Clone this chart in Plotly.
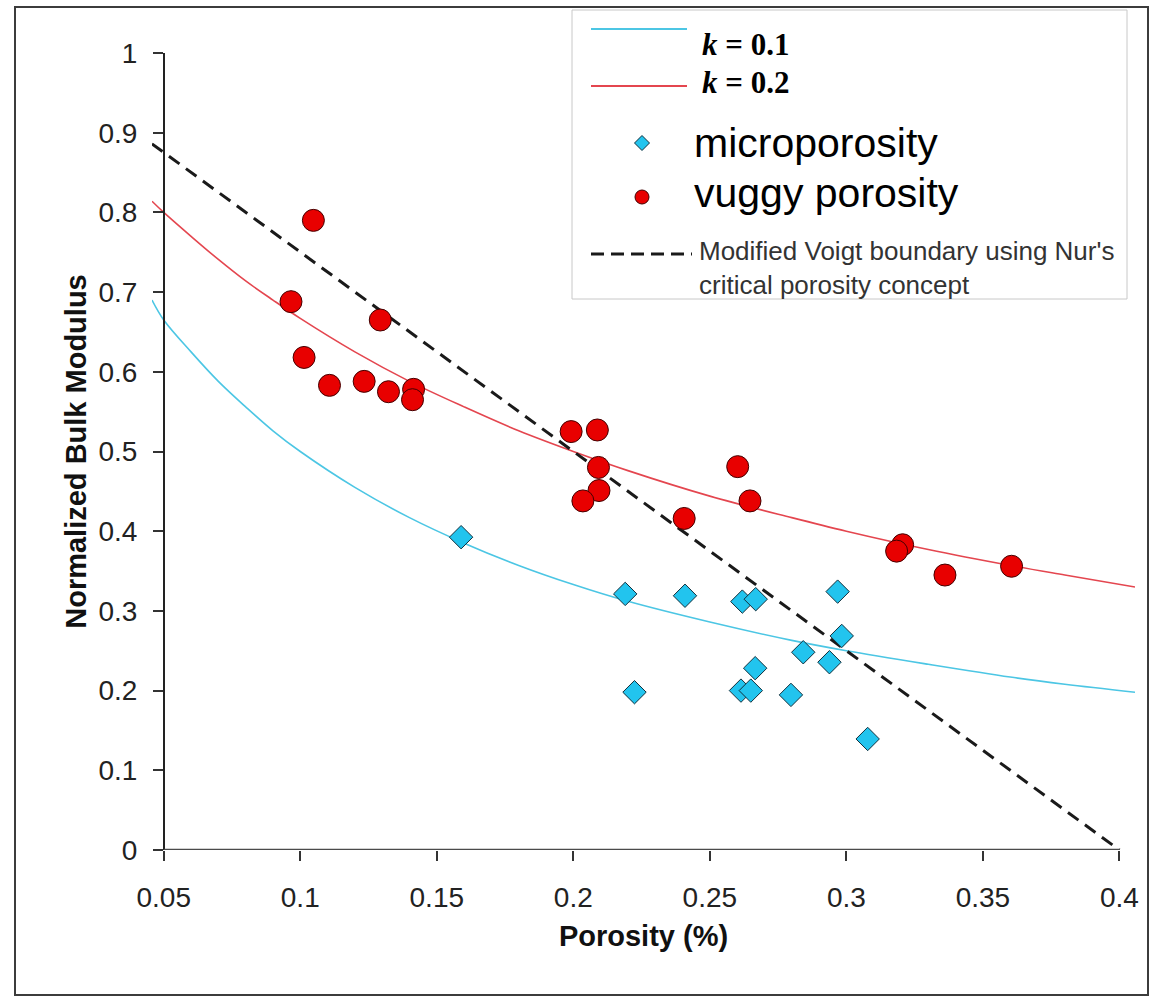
import plotly.graph_objects as go

# ---------------- data ----------------
micro_phi = [0.1589, 0.2190, 0.2409, 0.2619, 0.2668, 0.2968, 0.2983, 0.2842,
             0.2938, 0.2666, 0.2224, 0.2614, 0.2650, 0.2797, 0.3078]
micro_k = [0.3925, 0.3213, 0.3190, 0.3117, 0.3147, 0.3242, 0.2686, 0.2481,
           0.2356, 0.2281, 0.1980, 0.2000, 0.2000, 0.1946, 0.1393]

vuggy_phi = [0.1048, 0.0966, 0.1293, 0.1014, 0.1107, 0.1234, 0.1323, 0.1415,
             0.1411, 0.1992, 0.2088, 0.2092, 0.2094, 0.2035, 0.2602, 0.2647,
             0.2406, 0.3206, 0.3184, 0.3361, 0.3605]
vuggy_k = [0.790, 0.688, 0.665, 0.618, 0.583, 0.588, 0.575, 0.578,
           0.565, 0.525, 0.527, 0.480, 0.451, 0.438, 0.481, 0.438,
           0.416, 0.383, 0.375, 0.345, 0.356]

curve_phi = [0.0457, 0.05, 0.06, 0.07, 0.08, 0.09, 0.10, 0.12, 0.14, 0.16,
             0.18, 0.20, 0.22, 0.25, 0.28, 0.30, 0.33, 0.36, 0.38, 0.4057]
curve_k01 = [0.690, 0.665, 0.625, 0.588, 0.556, 0.526, 0.500, 0.455, 0.417, 0.385,
             0.357, 0.333, 0.312, 0.286, 0.263, 0.250, 0.233, 0.217, 0.208, 0.198]
curve_k02 = [0.814, 0.800, 0.770, 0.741, 0.714, 0.690, 0.667, 0.625, 0.588, 0.556,
             0.526, 0.500, 0.476, 0.444, 0.417, 0.400, 0.377, 0.357, 0.345, 0.330]

voigt_phi = [0.0457, 0.20, 0.30, 0.40]
voigt_k = [0.886, 0.500, 0.250, 0.000]

x_ticks = [0.05, 0.10, 0.15, 0.20, 0.25, 0.30, 0.35, 0.40]
x_ticklabels = ["0.05", "0.1", "0.15", "0.2", "0.25", "0.3", "0.35", "0.4"]
y_ticks = [0, 0.1, 0.2, 0.3, 0.4, 0.5, 0.6, 0.7, 0.8, 0.9, 1.0]
y_ticklabels = ["0", "0.1", "0.2", "0.3", "0.4", "0.5", "0.6", "0.7", "0.8", "0.9", "1"]

legend_labels = ["<b><i>k</i> = 0.1</b>", "<b><i>k</i> = 0.2</b>", "microporosity",
                 "vuggy porosity",
                 "Modified Voigt boundary using Nur's<br>critical porosity concept"]

# ---------------- styling / layout ----------------
W, H = 1150, 996
L, R, T, B = 152, 15, 53, 146
PW, PH = W - L - R, H - T - B
X_RANGE = [0.0457, 0.4057]

C_CYAN_LINE = "#4cc6e4"
C_RED_LINE = "#e4464f"
C_DIAMOND = "#22c4ee"
C_DIAMOND_EDGE = "#12303c"
C_CIRCLE = "#e80000"
C_CIRCLE_EDGE = "#420000"
SANS = "Liberation Sans, Arial, sans-serif"
SERIF = "Liberation Serif, Times New Roman, serif"


def px(x):
    return (x - L) / PW


def py(y):
    return (H - B - y) / PH


fig = go.Figure()

fig.add_trace(go.Scatter(x=curve_phi, y=curve_k01, mode="lines", name="k = 0.1",
                         line=dict(color=C_CYAN_LINE, width=1.6, shape="spline"),
                         showlegend=False))
fig.add_trace(go.Scatter(x=curve_phi, y=curve_k02, mode="lines", name="k = 0.2",
                         line=dict(color=C_RED_LINE, width=1.6, shape="spline"),
                         showlegend=False))
fig.add_trace(go.Scatter(x=voigt_phi, y=voigt_k, mode="lines",
                         name="Modified Voigt boundary",
                         line=dict(color="#1a1a1a", width=3, dash="13px,8px"),
                         showlegend=False))
fig.add_trace(go.Scatter(x=micro_phi, y=micro_k, mode="markers", name="microporosity",
                         marker=dict(symbol="diamond", size=18, color=C_DIAMOND,
                                     line=dict(color=C_DIAMOND_EDGE, width=1)),
                         showlegend=False))
fig.add_trace(go.Scatter(x=vuggy_phi, y=vuggy_k, mode="markers", name="vuggy porosity",
                         marker=dict(symbol="circle", size=22, color=C_CIRCLE,
                                     line=dict(color=C_CIRCLE_EDGE, width=1)),
                         showlegend=False))

shapes = []
# outer frame
shapes.append(dict(type="rect", xref="paper", yref="paper",
                   x0=px(15), x1=px(1148), y0=py(995), y1=py(7),
                   line=dict(color="#3c3c3c", width=2), layer="below"))
# x axis line (from 0.05 to 0.4)
shapes.append(dict(type="line", xref="x", yref="y", x0=x_ticks[0], x1=x_ticks[-1],
                   y0=0, y1=0, line=dict(color="#4a4a4a", width=2.5), layer="above"))
# legend box
shapes.append(dict(type="rect", xref="paper", yref="paper",
                   x0=px(572), x1=px(1127), y0=py(299), y1=py(10),
                   line=dict(color="#c8c8c8", width=1), fillcolor="white", layer="above"))
# legend samples
shapes.append(dict(type="line", xref="paper", yref="paper", x0=px(591), x1=px(687),
                   y0=py(29), y1=py(29), line=dict(color=C_CYAN_LINE, width=2), layer="above"))
shapes.append(dict(type="line", xref="paper", yref="paper", x0=px(591), x1=px(687),
                   y0=py(86), y1=py(86), line=dict(color=C_RED_LINE, width=2), layer="above"))
dx, dy = 7.5 / PW, 7.5 / PH
cx, cy = px(642), py(143)
shapes.append(dict(type="path", xref="paper", yref="paper",
                   path=f"M {cx},{cy + dy} L {cx + dx},{cy} L {cx},{cy - dy} L {cx - dx},{cy} Z",
                   fillcolor=C_DIAMOND, line=dict(color=C_DIAMOND_EDGE, width=1), layer="above"))
shapes.append(dict(type="circle", xref="paper", yref="paper",
                   x0=px(635), x1=px(649), y0=py(204), y1=py(190),
                   fillcolor=C_CIRCLE, line=dict(color=C_CIRCLE_EDGE, width=1), layer="above"))
shapes.append(dict(type="line", xref="paper", yref="paper", x0=px(591), x1=px(692),
                   y0=py(254), y1=py(254),
                   line=dict(color="#1a1a1a", width=3, dash="13px,7px"), layer="above"))

annotations = [
    dict(text=legend_labels[0], x=px(700), y=py(45), xref="paper", yref="paper",
         xanchor="left", yanchor="middle", showarrow=False,
         font=dict(family=SERIF, size=31, color="black")),
    dict(text=legend_labels[1], x=px(700), y=py(82), xref="paper", yref="paper",
         xanchor="left", yanchor="middle", showarrow=False,
         font=dict(family=SERIF, size=31, color="black")),
    dict(text=legend_labels[2], x=px(692), y=py(143), xref="paper", yref="paper",
         xanchor="left", yanchor="middle", showarrow=False,
         font=dict(family=SANS, size=41, color="black")),
    dict(text=legend_labels[3], x=px(692), y=py(193), xref="paper", yref="paper",
         xanchor="left", yanchor="middle", showarrow=False,
         font=dict(family=SANS, size=41, color="black")),
    dict(text=legend_labels[4], x=px(697), y=py(268), xref="paper", yref="paper",
         xanchor="left", yanchor="middle", align="left", showarrow=False,
         font=dict(family=SANS, size=26, color="#333333")),
]

fig.update_layout(
    width=W, height=H,
    margin=dict(l=L, r=R, t=T, b=B, pad=0),
    paper_bgcolor="white", plot_bgcolor="white",
    showlegend=False,
    font=dict(family=SANS, color="#222222"),
    shapes=shapes,
    annotations=annotations,
    xaxis=dict(range=X_RANGE, tickmode="array", tickvals=x_ticks, ticktext=x_ticklabels,
               showgrid=False, zeroline=False, showline=False,
               ticks="outside", ticklen=10, tickwidth=1.5, tickcolor="#333333",
               tickfont=dict(family=SANS, size=28, color="#222222"),
               ticklabelstandoff=12, automargin=False,
               title=dict(text="<b>Porosity (%)</b>", standoff=14,
                          font=dict(family=SANS, size=29, color="#111111"))),
    yaxis=dict(range=[0, 1], tickmode="array", tickvals=y_ticks, ticktext=y_ticklabels,
               anchor="free", position=(x_ticks[0] - X_RANGE[0]) / (X_RANGE[1] - X_RANGE[0]),
               showgrid=False, zeroline=False, showline=True, linecolor="#222222",
               linewidth=1.5, ticks="outside", ticklen=10, tickwidth=1.5,
               tickcolor="#333333",
               tickfont=dict(family=SANS, size=28, color="#222222"),
               ticklabelstandoff=10, automargin=False,
               title=dict(text="<b>Normalized Bulk Modulus</b>", standoff=2,
                          font=dict(family=SANS, size=29, color="#111111"))),
)

fig.write_html("out.html", config={"displayModeBar": False},
               post_script="document.body.style.margin='0';")
